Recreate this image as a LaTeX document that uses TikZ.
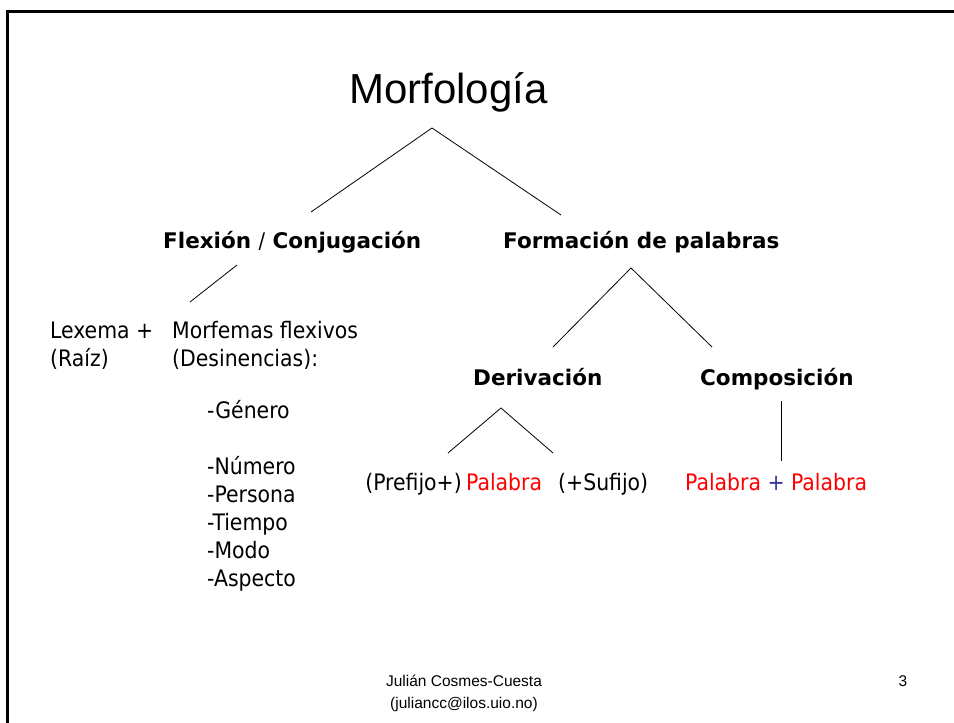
\documentclass[tikz,border=0pt]{standalone}
\usepackage{fontspec}
\setmainfont{DejaVu Sans Condensed}[BoldFont=DejaVu Sans Bold]
\newfontfamily\arialfont{Liberation Sans}
\usepackage{xcolor}
\usepackage{tikz}
\definecolor{wordred}{RGB}{255,0,0}
\definecolor{plusblue}{RGB}{51,51,153}

\begin{document}
\begin{tikzpicture}[
    x=1pt, y=-1pt,
    title/.style={anchor=base west, inner sep=0pt, font=\arialfont\fontsize{42}{48}\selectfont},
    head/.style={anchor=base west, inner sep=0pt, font=\bfseries\fontsize{21.5}{26}\selectfont},
    word/.style={anchor=base west, inner sep=0pt, font=\fontsize{22.7}{26}\selectfont},
    foot/.style={anchor=base, inner sep=0pt, font=\arialfont\fontsize{15.5}{18}\selectfont},
    branch/.style={line width=0.8pt}
]
\useasboundingbox (0,0) rectangle (954,723);

% slide frame (only top and left edge visible)
\draw[line width=3pt] (7,723) -- (7,11) -- (954,11);

% Title
\node[title] (morf) at (349,103) {Morfología};

% First level
\node[head] (flex) at (163,248) {Flexión {\mdseries/} Conjugación};
\node[head] (form) at (503,248) {Formación de palabras};

% Inflection side
\node[word] (lex) at (50,338) {Lexema +};
\node[word] (raiz) at (50,366) {(Raíz)};
\node[word] (morfemas) at (172,338) {Morfemas flexivos};
\node[word] (desin) at (172,366) {(Desinencias):};
\node[word] (gen) at (207,418) {-Género};
\node[word] (num) at (207,474) {-Número};
\node[word] (pers) at (207,502) {-Persona};
\node[word] (tiem) at (207,530) {-Tiempo};
\node[word] (modo) at (207,558) {-Modo};
\node[word] (asp) at (207,586) {-Aspecto};

% Word formation side
\node[head] (deriv) at (473,385) {Derivación};
\node[head] (comp) at (700,385) {Composición};
\node[word, anchor=base east] (pref) at (462,490) {(Prefijo+)};
\node[word, text=wordred] (pal) at (466,490) {Palabra};
\node[word] (suf) at (558,490) {(+Sufijo)};
\node[word] (compo) at (685,490) {\textcolor{wordred}{Palabra} \textcolor{plusblue}{+} \textcolor{wordred}{Palabra}};

% Branch end points
\coordinate (morfB) at (432,128);
\coordinate (flexT) at (311,212);
\coordinate (formT) at (561,215);
\coordinate (flexB) at (237,265);
\coordinate (morfT) at (190,302);
\coordinate (formB) at (631,268);
\coordinate (derivT) at (553,347);
\coordinate (compT) at (712,347);
\coordinate (derivB) at (501,408);
\coordinate (prefT) at (448,453);
\coordinate (sufT) at (553,453);
\coordinate (compB) at (781,401);
\coordinate (compoT) at (781,461);

% Branches
\draw[branch] (flexT) -- (morfB) -- (formT);
\draw[branch] (flexB) -- (morfT);
\draw[branch] (derivT) -- (formB) -- (compT);
\draw[branch] (prefT) -- (derivB) -- (sufT);
\draw[branch] (compB) -- (compoT);

% Footer
\node[foot] (author) at (464,686) {Julián Cosmes-Cuesta};
\node[foot] (mail) at (464,708) {(juliancc@ilos.uio.no)};
\node[foot] (page) at (903,686) {3};

\end{tikzpicture}
\end{document}
